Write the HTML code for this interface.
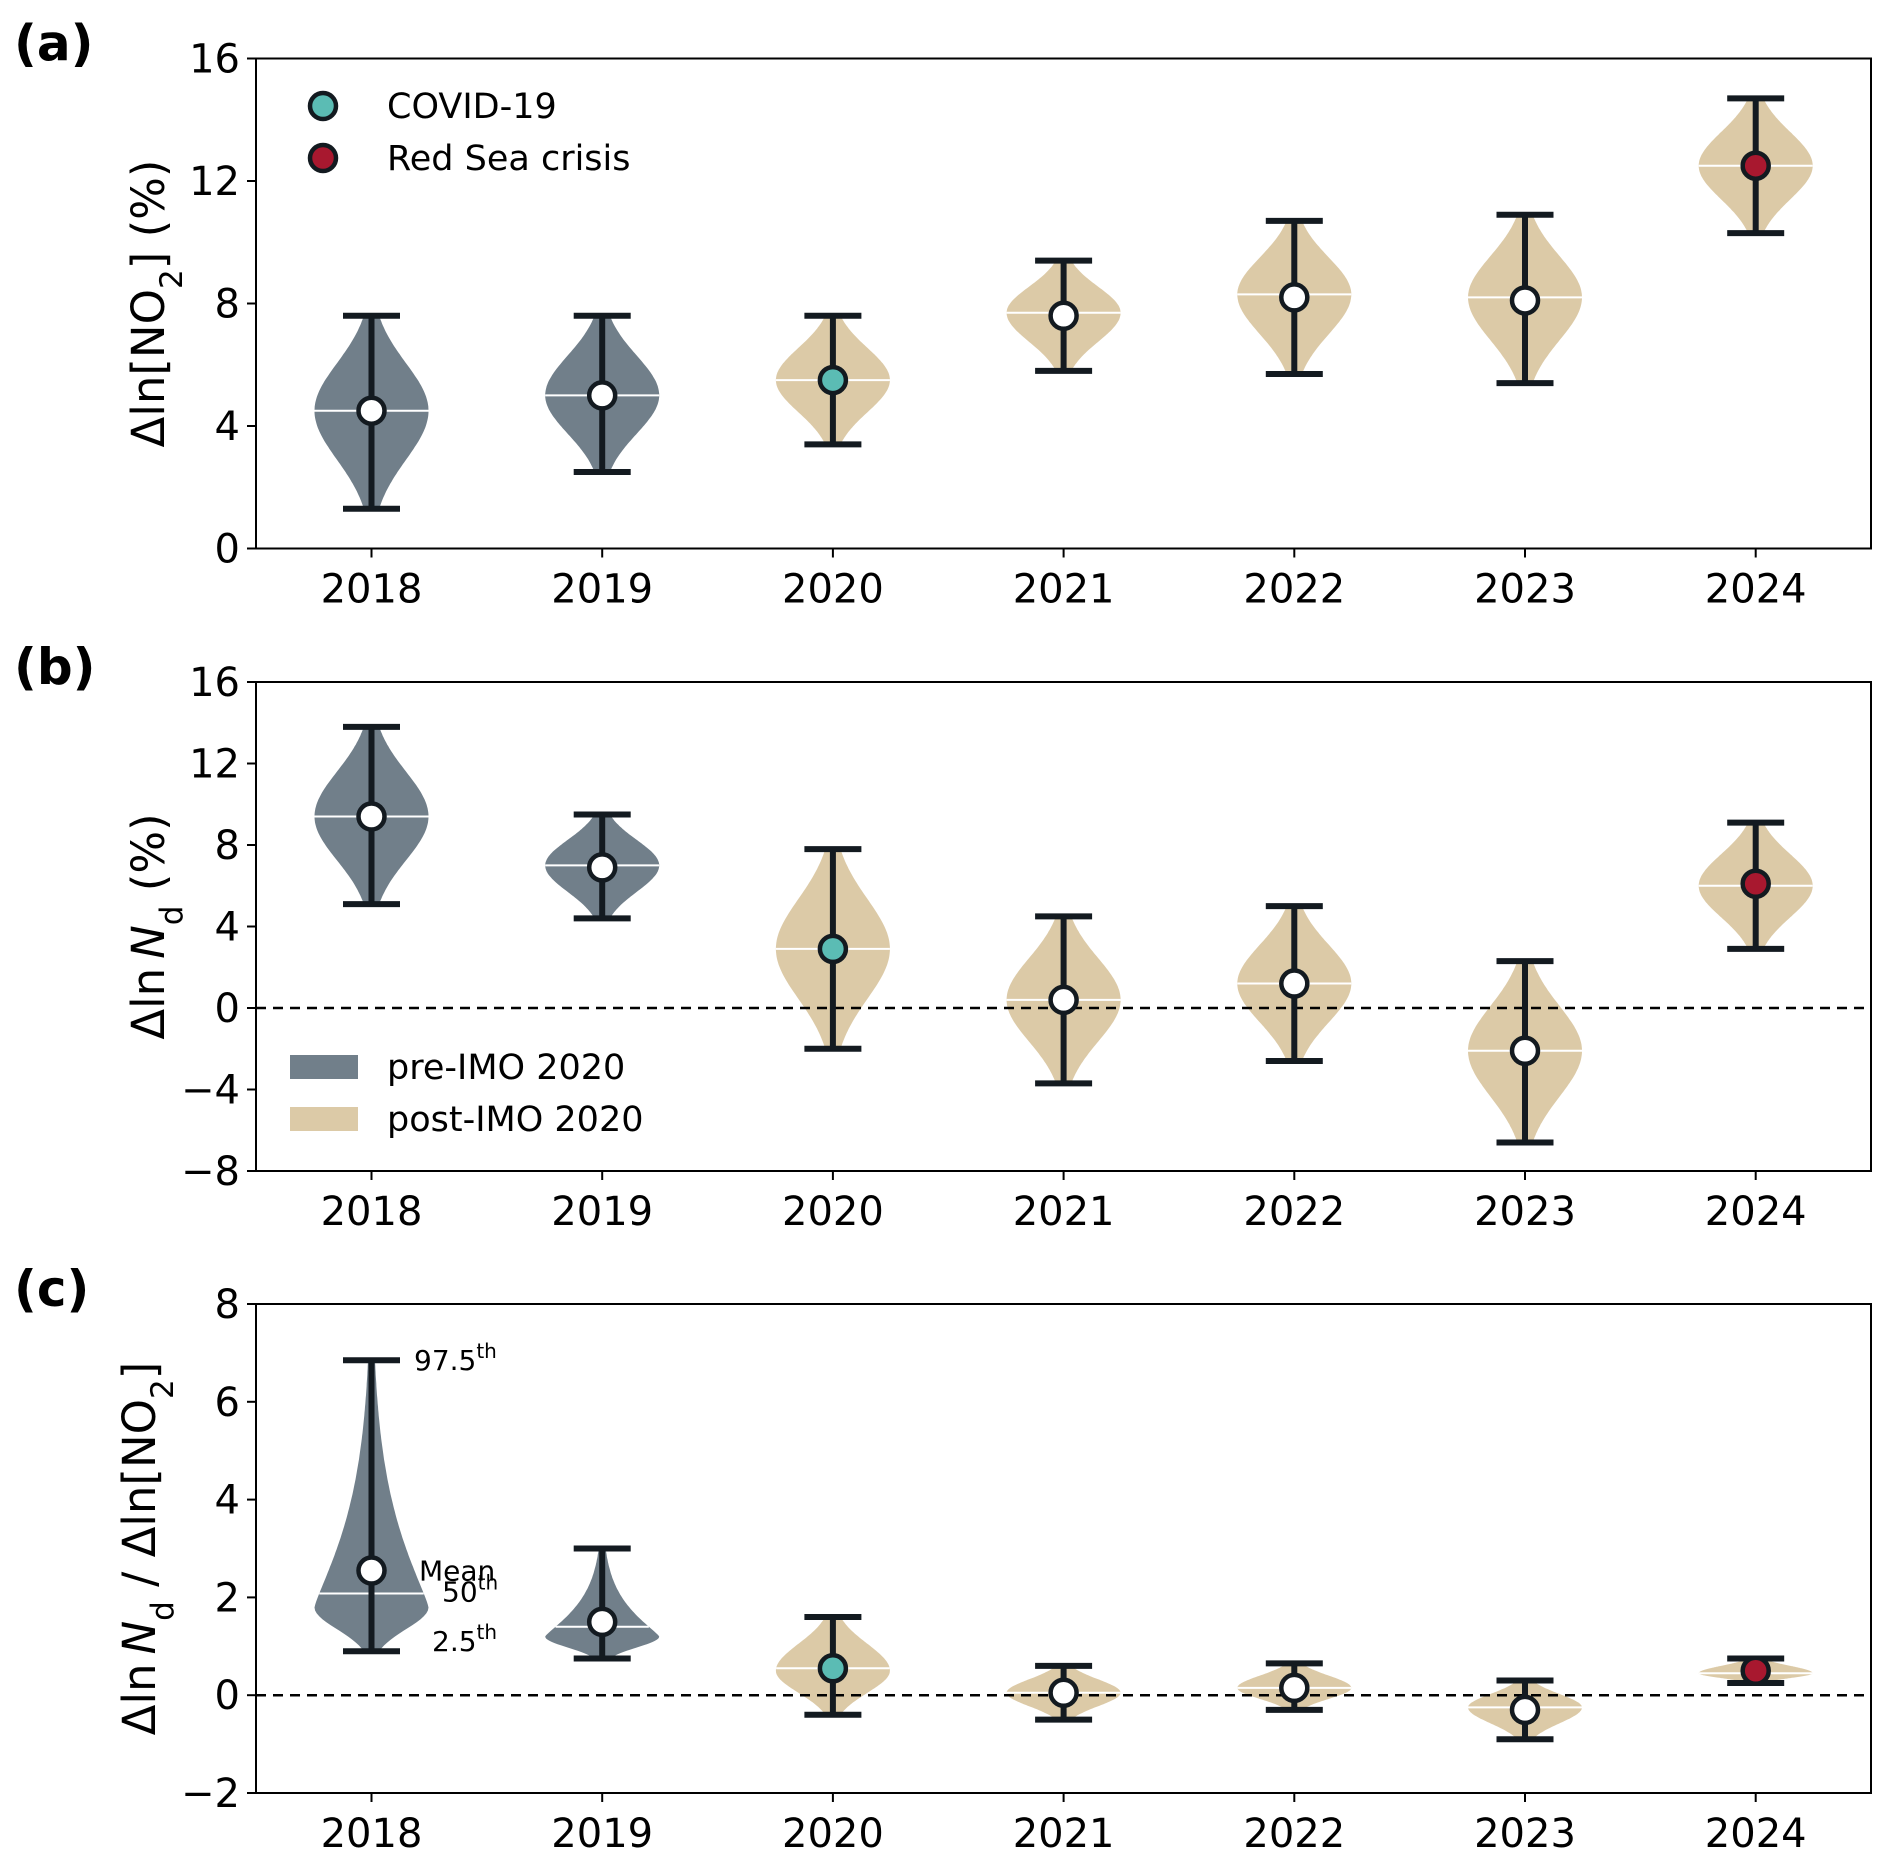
<!DOCTYPE html>
<html><head><meta charset="utf-8">
<style>
html,body{margin:0;padding:0;background:#fff;}
svg{display:block;font-family:"DejaVu Sans","Liberation Sans",sans-serif;}
</style></head>
<body>
<svg id="fig" width="1892" height="1864" viewBox="0 0 1892 1864" xmlns="http://www.w3.org/2000/svg"></svg>
<script>
// ---- data ----
const years = ["2018","2019","2020","2021","2022","2023","2024"];
const preIMO = [true,true,false,false,false,false,false];
const eventKind = ["none","none","covid","none","none","none","redsea"];
// panel a: Δln[NO2] (%)
const aMean = [4.5,5.0,5.5,7.6,8.2,8.1,12.5];
const aMedian = [4.5,5.0,5.5,7.7,8.3,8.2,12.5];
const aMode = [4.5,5.0,5.5,7.7,8.3,8.2,12.5];
const aLow = [1.3,2.5,3.4,5.8,5.7,5.4,10.3];
const aHigh = [7.6,7.6,7.6,9.4,10.7,10.9,14.7];
// panel b: Δln Nd (%)
const bMean = [9.4,6.9,2.9,0.4,1.2,-2.1,6.1];
const bMedian = [9.4,7.0,2.9,0.4,1.2,-2.1,6.0];
const bMode = [9.4,7.0,2.9,0.4,1.2,-2.1,6.0];
const bLow = [5.1,4.4,-2.0,-3.7,-2.6,-6.6,2.9];
const bHigh = [13.8,9.5,7.8,4.5,5.0,2.3,9.1];
// panel c: ratio
const cMean = [2.55,1.5,0.55,0.05,0.15,-0.3,0.5];
const cMedian = [2.08,1.4,0.55,0.05,0.15,-0.25,0.45];
const cMode = [1.8,1.2,0.5,0.05,0.15,-0.25,0.45];
const cLow = [0.9,0.75,-0.4,-0.5,-0.3,-0.9,0.25];
const cHigh = [6.85,3.0,1.6,0.6,0.65,0.3,0.75];
const aTicks = [0,4,8,12,16];
const bTicks = [-8,-4,0,4,8,12,16];
const cTicks = [-2,0,2,4,6,8];

// ---- layout ----
const NS = "http://www.w3.org/2000/svg";
const svg = document.getElementById('fig');
const L = 256, R = 1871;
const x0 = 371.5, dx = 230.7;
function xPos(i){ return x0 + i*dx; }
function mk(tag, attrs, parent){
  const e = document.createElementNS(NS, tag);
  for (const k in attrs) e.setAttribute(k, attrs[k]);
  (parent||svg).appendChild(e);
  return e;
}
const INK = "#131a20";
const SLATE = "#717f8a";
const TAN = "rgb(196,167,108)";
const FS = 40;

function panel(cfg){
  const {id, top, bot, ymin, ymax, ticks, mean, median, mode, low, high, zero, letter, ylabel} = cfg;
  const g = mk('g', {});
  
  
  const y = v => bot - (v - ymin) / (ymax - ymin) * (bot - top);
  years.forEach((yr, i) => {
    const cx = xPos(i);
    const W = 57;
    const n = 100;
    const up = [], dn = [];
    const rU = high[i] - mode[i], rD = mode[i] - low[i];
    const longTail = rU > 3 * rD;
    const prof = (d) => {
      if (d > 0) {
        const s = longTail ? rU / 4.2 : rU / 2.0;
        const p = longTail ? 1.2 : 2;
        return Math.exp(-0.5 * Math.pow(d / s, p));
      }
      const s = rD / 2.0;
      return Math.exp(-0.5 * Math.pow(-d / s, 2));
    };
    for (let k = 0; k <= n; k++) {
      const v = low[i] + (high[i] - low[i]) * k / n;
      const w = W * prof(v - mode[i]);
      up.push([cx + w, y(v)]);
      dn.push([cx - w, y(v)]);
    }
    const pts = up.concat(dn.reverse()).map(p => p[0].toFixed(1) + ',' + p[1].toFixed(1)).join(' ');
    const vio = mk('polygon', {points: pts, fill: preIMO[i] ? SLATE : TAN, 'fill-opacity': preIMO[i] ? 1 : 0.6}, g);
    
    
    const wm = W * prof(median[i] - mode[i]);
    const med = mk('line', {x1: cx - wm, x2: cx + wm, y1: y(median[i]), y2: y(median[i]), stroke: '#fff', 'stroke-width': 2}, g);
    
    
  });
  if (zero) {
    const zl = mk('line', {x1: L, x2: R, y1: y(0), y2: y(0), stroke: '#000', 'stroke-width': 2.5, 'stroke-dasharray': '10,7'}, g);
    
    
  }
  years.forEach((yr, i) => {
    const cx = xPos(i);
    const eb = mk('g', {}, g);
    
    
    mk('line', {x1: cx, x2: cx, y1: y(low[i]), y2: y(high[i]), stroke: INK, 'stroke-width': 6}, eb);
    mk('line', {x1: cx - 28.5, x2: cx + 28.5, y1: y(low[i]), y2: y(low[i]), stroke: INK, 'stroke-width': 6}, eb);
    mk('line', {x1: cx - 28.5, x2: cx + 28.5, y1: y(high[i]), y2: y(high[i]), stroke: INK, 'stroke-width': 6}, eb);
    const col = eventKind[i] === 'covid' ? '#5bbcb4' : eventKind[i] === 'redsea' ? '#a8182f' : '#fff';
    const m = mk('circle', {cx: cx, cy: y(mean[i]), r: 13, fill: col, stroke: INK, 'stroke-width': 4.5}, g);
    
    
  });
  const fr = mk('rect', {x: L, y: top, width: R - L, height: bot - top, fill: 'none', stroke: '#000', 'stroke-width': 2}, g);
  
  
  ticks.forEach(t => {
    mk('line', {x1: L - 9, x2: L, y1: y(t), y2: y(t), stroke: '#000', 'stroke-width': 2}, g);
    const tl = mk('text', {x: L - 16, y: y(t) + 14, 'text-anchor': 'end', 'font-size': FS, fill: '#000'}, g);
    tl.textContent = t < 0 ? '\u2212' + Math.abs(t) : String(t);
    
    
  });
  years.forEach((yr, i) => {
    mk('line', {x1: xPos(i), x2: xPos(i), y1: bot, y2: bot + 9, stroke: '#000', 'stroke-width': 2}, g);
    const xl = mk('text', {x: xPos(i), y: bot + 54, 'text-anchor': 'middle', 'font-size': FS, fill: '#000'}, g);
    xl.textContent = yr;
    
    
  });
  const pl = mk('text', {x: 14, y: top + 2, 'font-size': 50, 'font-weight': 'bold', fill: '#000'}, g);
  pl.textContent = letter;
  
  
  const cy = (top + bot) / 2;
  const yl = mk('text', {x: 0, y: 0, 'text-anchor': 'middle', 'font-size': 45, fill: '#000', transform: 'translate(' + cfg.ylx + ',' + cy + ') rotate(-90)'}, g);
  yl.innerHTML = ylabel;
  
  
  return y;
}

const NO2 = 'ln[NO<tspan baseline-shift="sub" font-size="31">2</tspan>]';
const ND = 'ln<tspan font-style="italic" dx="9">N</tspan><tspan baseline-shift="sub" font-size="31">d</tspan>';

panel({id:'a', top:58.5, bot:548.5, ymin:0, ymax:16, ticks:aTicks, mean:aMean, median:aMedian, mode:aMode, low:aLow, high:aHigh, zero:false, letter:'(a)', ylx:164,
  ylabel:'\u0394' + NO2 + ' (%)'});
panel({id:'b', top:682, bot:1171, ymin:-8, ymax:16, ticks:bTicks, mean:bMean, median:bMedian, mode:bMode, low:bLow, high:bHigh, zero:true, letter:'(b)', ylx:164,
  ylabel:'\u0394' + ND + ' (%)'});
const yc = panel({id:'c', top:1304, bot:1793, ymin:-2, ymax:8, ticks:cTicks, mean:cMean, median:cMedian, mode:cMode, low:cLow, high:cHigh, zero:true, letter:'(c)', ylx:155,
  ylabel:'\u0394' + ND + ' / \u0394' + NO2});

const lg = mk('g', {});


[['COVID-19','#5bbcb4',106],['Red Sea crisis','#a8182f',158]].forEach(e => {
  const it = mk('g', {}, lg);
  
  
  mk('circle', {cx: 323, cy: e[2], r: 13, fill: e[1], stroke: INK, 'stroke-width': 4.5}, it);
  const t = mk('text', {x: 387, y: e[2] + 12, 'font-size': 35, fill: '#000'}, it);
  t.textContent = e[0];
});
const lb = mk('g', {});


[['pre-IMO 2020',SLATE,1,1067],['post-IMO 2020',TAN,0.6,1119]].forEach(e => {
  const it = mk('g', {}, lb);
  
  
  mk('rect', {x: 290, y: e[3] - 12, width: 68, height: 24, fill: e[1], 'fill-opacity': e[2]}, it);
  const t = mk('text', {x: 387, y: e[3] + 12, 'font-size': 35, fill: '#000'}, it);
  t.textContent = e[0];
});
const ann = mk('g', {});


function annot(x, yv, main, sup, dy){
  const t = mk('text', {x: x, y: yc(yv) + dy, 'font-size': 28, fill: '#000'}, ann);
  t.innerHTML = main + (sup ? '<tspan baseline-shift="super" font-size="20">' + sup + '</tspan>' : '');
}
annot(414, cHigh[0], '97.5', 'th', 10);
annot(419, cMean[0], 'Mean', '', 10);
annot(442, cMedian[0], '50', 'th', 8);
annot(432, cLow[0], '2.5', 'th', 0);
</script>
</body></html>
